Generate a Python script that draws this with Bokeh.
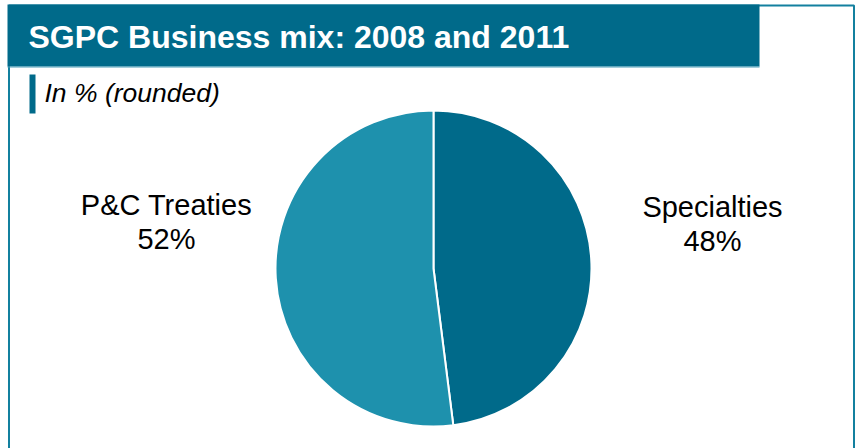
import math
from bokeh.plotting import figure
from bokeh.models import Range1d, ColumnDataSource
from bokeh.core.properties import value
from bokeh.embed import file_html
from bokeh.resources import INLINE

# ---- data ----
categories = ["Specialties", "P&C Treaties"]
shares = [48, 52]
label_pct = ["48%", "52%"]
colors = ["#006a8a", "#1e91ad"]
title_text = "SGPC Business mix: 2008 and 2011"
subtitle_text = "In % (rounded)"

W, H = 856, 448
def Y(y):
    return H - y

p = figure(width=W, height=H, output_backend="svg", toolbar_location=None,
           x_range=Range1d(0, W), y_range=Range1d(0, H), min_border=0,
           outline_line_color=None)
p.axis.visible = False
p.grid.visible = False
p.background_fill_color = "white"
p.border_fill_color = "white"

FONT = value("Liberation Sans")
TEAL = "#006a8a"

# frame border
p.quad(left=[8.5], right=[853.5], top=[Y(5)], bottom=[Y(470)], fill_color=None,
       line_color="#13809f", line_width=2)
# title bar
p.quad(left=[7], right=[759], top=[Y(4)], bottom=[Y(66)], fill_color=TEAL,
       line_color=None)
p.segment(x0=[7], x1=[759], y0=[Y(66.5)], y1=[Y(66.5)], line_color="#4a9db8", line_width=1)
p.text(x=[28], y=[Y(36)], text=[title_text], text_color="white",
       text_font=FONT, text_font_style="bold", text_font_size="32px",
       text_baseline="alphabetic", text_align="left")

# subtitle accent
p.quad(left=[29], right=[35], top=[Y(74)], bottom=[Y(113)], fill_color=TEAL, line_color=None)
p.text(x=[44], y=[Y(92)], text=[subtitle_text], text_color="black",
       text_font=FONT, text_font_style="italic", text_font_size="26.5px",
       text_baseline="alphabetic", text_align="left")

# pie
cx, cy, r = 433, Y(268), 158
total = sum(shares)
starts, ends = [], []
acc = 0.0
for s in shares:
    a0 = math.pi / 2 - 2 * math.pi * acc / total
    acc += s
    a1 = math.pi / 2 - 2 * math.pi * acc / total
    starts.append(a0)
    ends.append(a1)
src = ColumnDataSource(dict(cat=categories, start=starts, end=ends, color=colors))
p.wedge(x=cx, y=cy, radius=r, start_angle="start", end_angle="end",
        direction="clock", fill_color="color", line_color="white", line_width=2,
        source=src)

# labels
lab_x = [712, 166]
lab_y1 = [206, 204]
lab_y2 = [240, 238]
p.text(x=lab_x, y=[Y(v) for v in lab_y1], text=categories, text_color="black",
       text_font=FONT, text_font_size="29px", text_baseline="alphabetic", text_align="center")
p.text(x=lab_x, y=[Y(v) for v in lab_y2], text=label_pct, text_color="black",
       text_font=FONT, text_font_size="29px", text_baseline="alphabetic", text_align="center")

open("out.html", "w").write(file_html(p, INLINE))
